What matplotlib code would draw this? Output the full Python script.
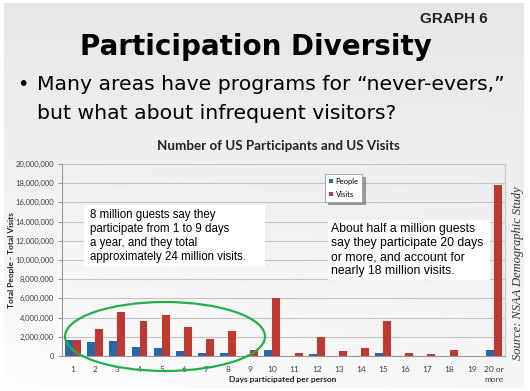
import matplotlib
matplotlib.use("Agg")
import matplotlib.pyplot as plt
import numpy as np
from matplotlib.patches import Ellipse, Rectangle

categories = [str(i) for i in range(1, 20)] + ["20 or\nmore"]
people = [1.67, 1.42, 1.53, 0.90, 0.87, 0.52, 0.28, 0.35, 0.05, 0.62,
          0.05, 0.17, 0.05, 0.05, 0.28, 0.05, 0.03, 0.05, 0.03, 0.62]
visits = [1.67, 2.85, 4.58, 3.65, 4.24, 2.99, 1.74, 2.60, 0.62, 6.04,
          0.35, 2.00, 0.55, 0.80, 3.68, 0.35, 0.20, 0.60, 0.05, 17.80]
people = [v * 1e6 for v in people]
visits = [v * 1e6 for v in visits]
yticks = list(range(0, 20000001, 2000000))

BLUE = "#2468b4"
RED = "#c2372f"
W, H = 530, 391

fig = plt.figure(figsize=(W / 100, H / 100), dpi=100)
fig.patch.set_facecolor("white")

# slide background gradient
bg = fig.add_axes([0, 0, 1, 1], zorder=-5)
yy, xx = np.mgrid[0:1:200j, 0:1:200j]
g = 0.905 + 0.06 * yy + 0.03 * (1 - xx) * yy
g = np.clip(g, 0, 1)
bg.imshow(np.dstack([g, g, g]), extent=[4, 524, 388, 3], aspect="auto", zorder=-5)
bg.set_xlim(0, W); bg.set_ylim(H, 0); bg.axis("off")

# slide texts
bg.text(454, 23, "GRAPH 6", ha="center", va="baseline", fontsize=11,
        fontweight="heavy", family="Liberation Sans", color="#222222")
bg.text(256, 55, "Participation Diversity", ha="center", va="baseline", fontsize=20,
        fontweight="bold", family="DejaVu Sans", color="black")
bg.text(17, 90, "\u2022", ha="left", va="baseline", fontsize=14, family="DejaVu Sans")
bg.text(37, 90, "Many areas have programs for \u201cnever-evers,\u201d", ha="left",
        va="baseline", fontsize=14.7, family="DejaVu Sans", color="black")
bg.text(37, 119, "but what about infrequent visitors?", ha="left",
        va="baseline", fontsize=14.7, family="DejaVu Sans", color="black")

# chart
ax = fig.add_axes([62 / W, 1 - 356 / H, (505 - 62) / W, (356 - 164) / H])
ax.patch.set_alpha(0)
x = np.arange(len(categories))
bw = 0.36
ax.bar(x - bw / 2, people, bw, color=BLUE, label="People", zorder=3)
ax.bar(x + bw / 2, visits, bw, color=RED, label="Visits", zorder=3)
ax.set_xlim(-0.5, len(categories) - 0.5)
ax.set_ylim(0, 20000000)
ax.set_yticks(yticks)
ax.set_yticklabels([f"{v:,}" for v in yticks], fontsize=5.5, family="Lato", color="#404040")
ax.set_xticks(x)
ax.set_xticklabels(categories, fontsize=6, family="Lato", color="#404040", linespacing=1.6)
ax.tick_params(axis="x", length=0, pad=7)
ax.tick_params(axis="y", length=3, color="#999999", pad=3)
ax.grid(axis="y", color="#c4c4c4", linewidth=0.8, zorder=0)
ax.spines["top"].set_visible(False)
ax.spines["right"].set_color("#c8c8c8")
ax.spines["left"].set_color("#999999")
ax.spines["bottom"].set_color("#999999")
ax.set_title("Number of US Participants and US Visits", fontsize=9.6, fontweight="bold",
             family="Lato", color="#222222", pad=10, x=(278 - 62) / 443)
ax.set_ylabel("Total People - Total Visits", fontsize=6, fontweight="bold", family="Lato",
              color="#222222")
ax.yaxis.set_label_coords(-(62 - 15) / 443, 0.5)
ax.set_xlabel("Days participated per person", fontsize=6, fontweight="bold", family="Lato",
              color="#222222")
ax.xaxis.set_label_coords(0.499, -(376 - 356) / 192)

leg = ax.legend(loc="upper left", bbox_to_anchor=((321 - 62) / (505 - 62), (356 - 170) / 192),
                frameon=True, fancybox=False, shadow=True, handlelength=0.6,
                handleheight=0.6, handletextpad=0.3, borderpad=0.5, labelspacing=0.8,
                prop={"family": "Lato", "size": 5.5})
leg.get_frame().set_edgecolor("#999999")
leg.get_frame().set_linewidth(0.6)

# annotation boxes, ellipse, source
ov = fig.add_axes([0, 0, 1, 1], zorder=10)
ov.set_xlim(0, W); ov.set_ylim(H, 0); ov.axis("off")
ov.add_patch(Rectangle((84, 205), 181, 62, facecolor="white", edgecolor="none"))
box1 = ["8 million guests say they", "participate from 1 to 9 days",
        "a year, and they total", "approximately 24 million visits."]
for i, t in enumerate(box1):
    ov.text(90, 215 + 14 * i, t, ha="left", va="center", fontsize=8.3,
            family="Liberation Sans", color="black")
ov.add_patch(Rectangle((328, 220), 162, 60, facecolor="white", edgecolor="none"))
box2 = ["About half a million guests", "say they participate 20 days",
        "or more, and account for", "nearly 18 million visits."]
for i, t in enumerate(box2):
    ov.text(331, 229 + 14 * i, t, ha="left", va="center", fontsize=8.8,
            family="Liberation Sans", color="black")
ov.add_patch(Ellipse((165, 336.5), 200, 69, facecolor="none", edgecolor="#22b04a",
                     linewidth=1.6))
ov.text(518, 273, "Source: NSAA Demographic Study", rotation=90, ha="center", va="center",
        fontsize=9, style="italic", family="Liberation Serif", color="#333333")

fig.savefig("out.png", dpi=100)
